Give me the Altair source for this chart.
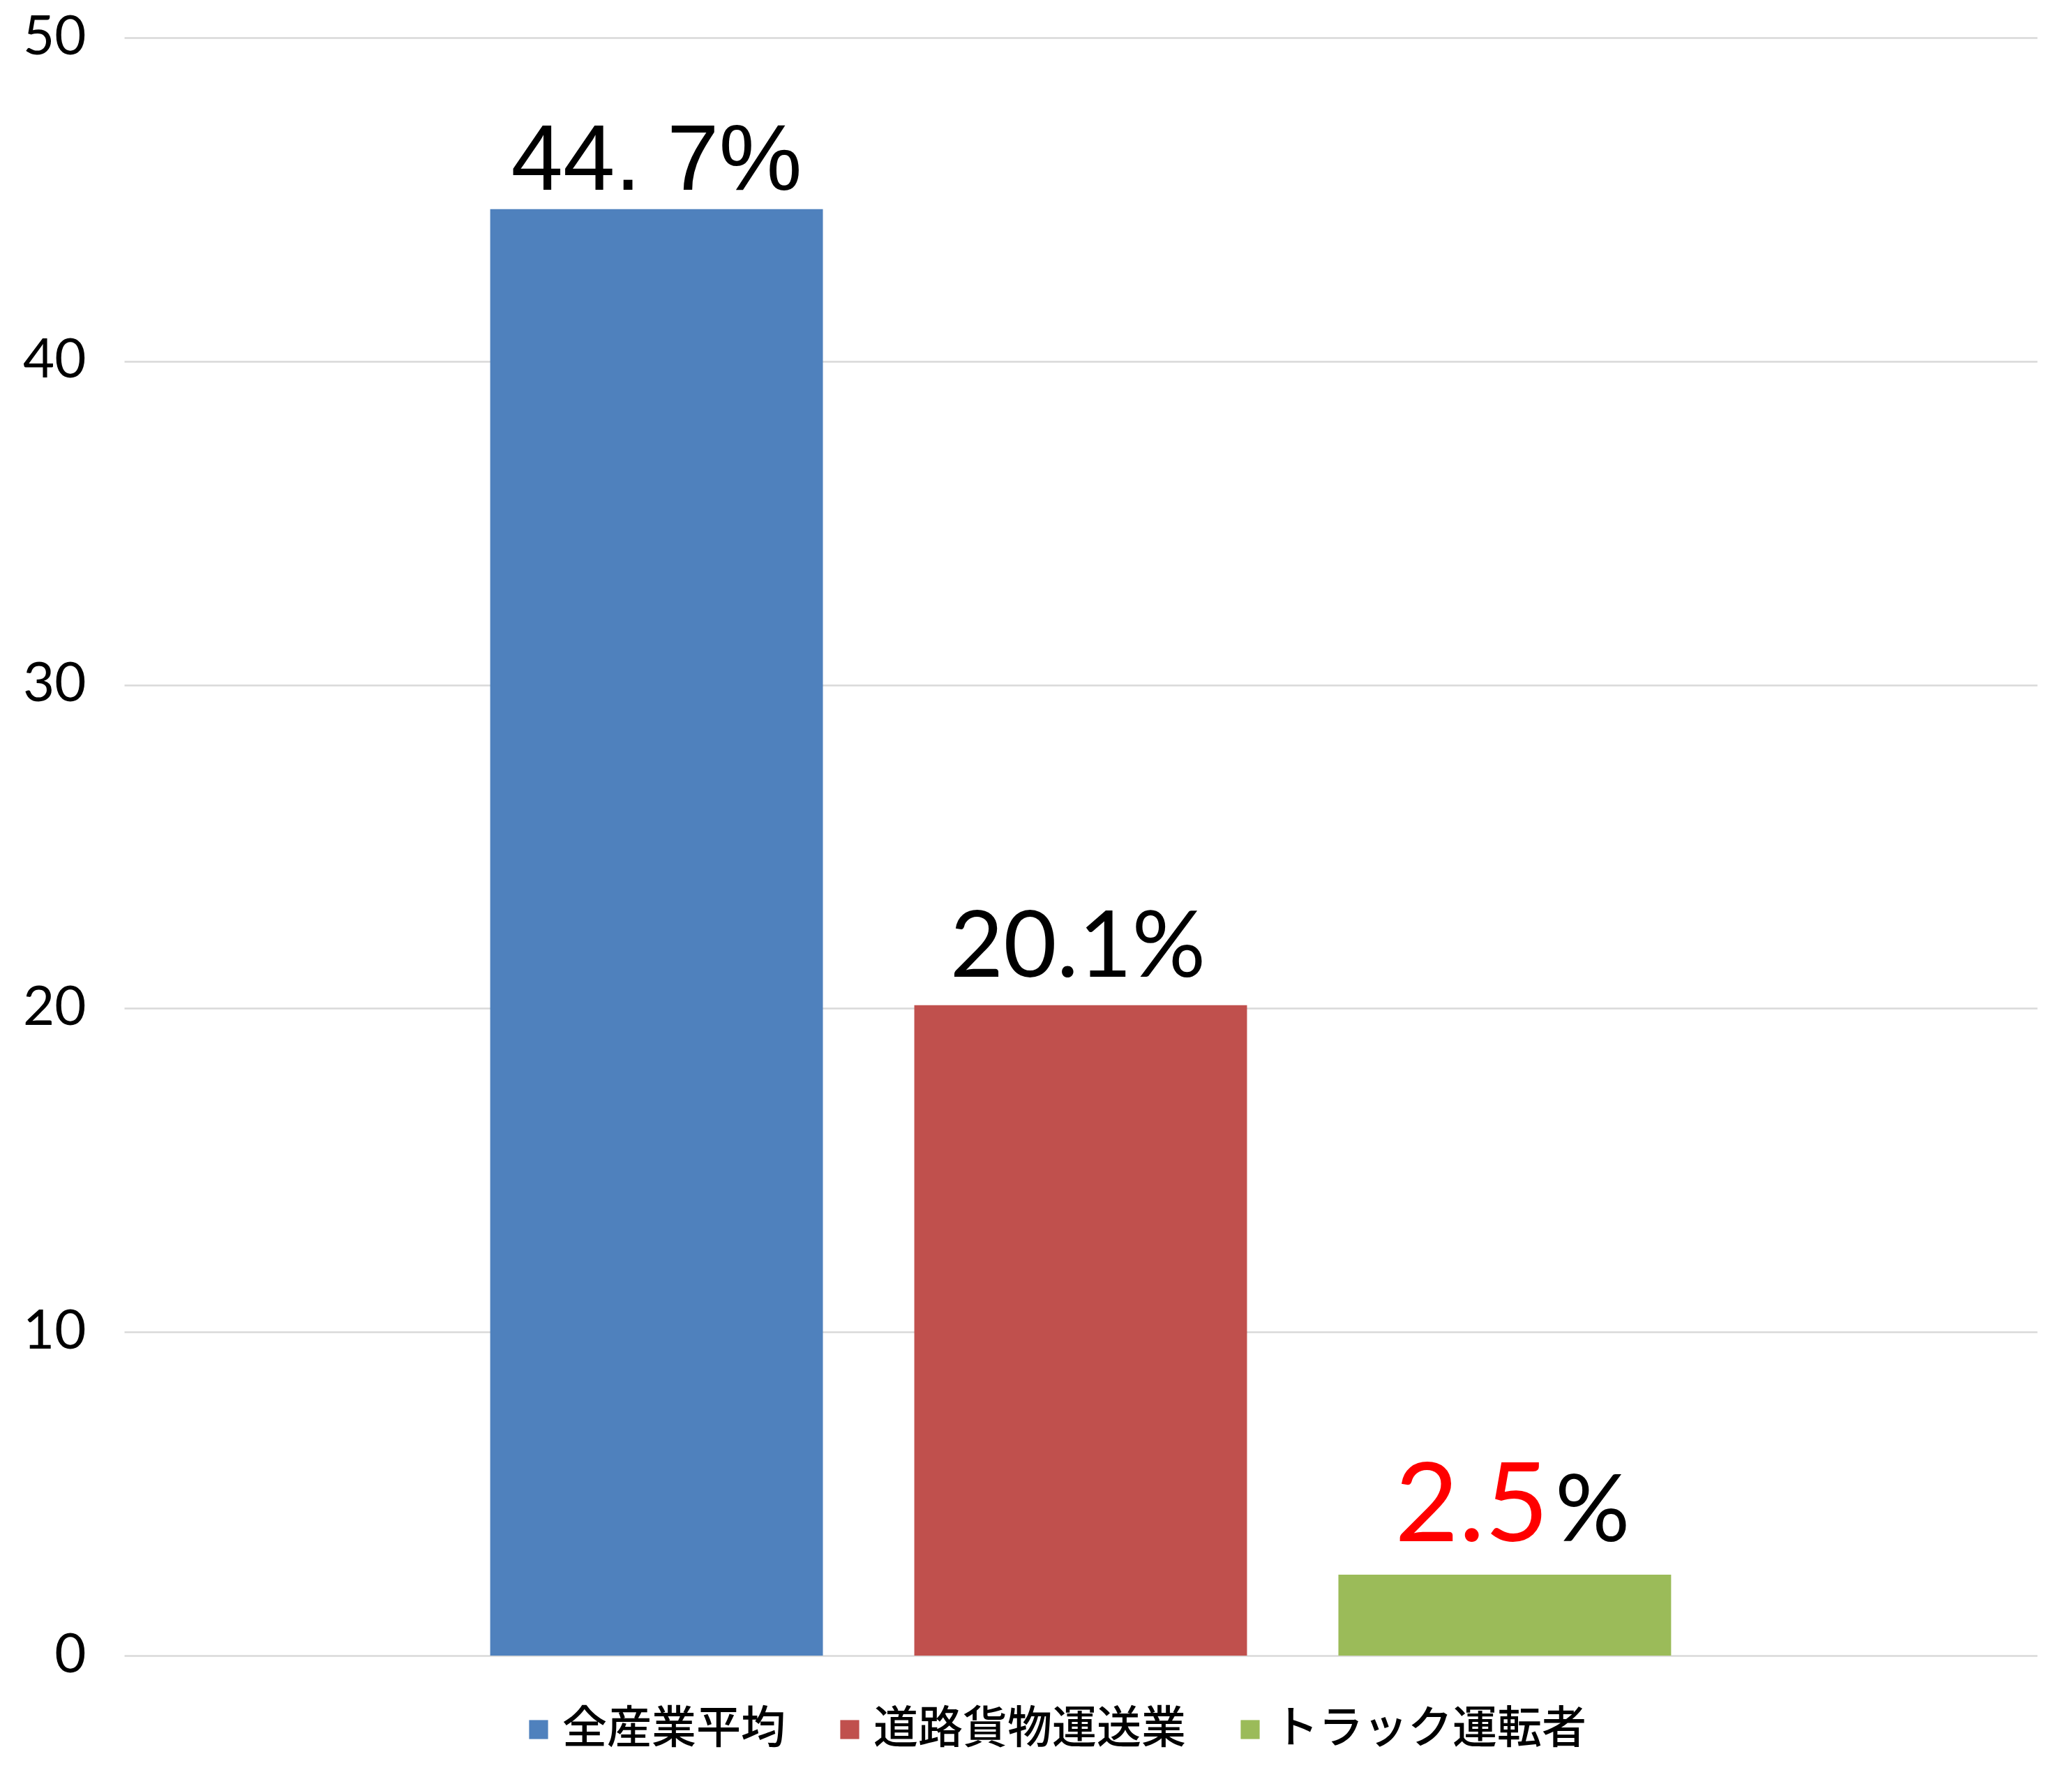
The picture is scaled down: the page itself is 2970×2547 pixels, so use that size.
import altair as alt
import pandas as pd

categories = ["全産業平均", "道路貨物運送業", "トラック運転者"]
values = [44.7, 20.1, 2.5]
labels = ["44. 7%", "20.1%", "2.5"]
suffix = ["", "", "%"]
colors = ["#4F81BD", "#C0504D", "#9BBB59"]
y_ticks = [0, 10, 20, 30, 40, 50]

df = pd.DataFrame({"category": categories, "value": values, "label": labels, "suffix": suffix})

x = alt.X("category:N", sort=categories,
          scale=alt.Scale(paddingInner=0.2155, paddingOuter=0.863), axis=None)
y = alt.Y("value:Q",
          scale=alt.Scale(domain=[0, 50], nice=False, zero=True),
          axis=alt.Axis(values=y_ticks, title=None, domain=False, ticks=False,
                        labelFont="Lato", labelFontSize=78, labelColor="#000000",
                        labelPadding=55, grid=True, gridColor="#D9D9D9", gridWidth=2.5))

bars = alt.Chart(df).mark_bar().encode(
    x=x, y=y,
    color=alt.Color("category:N", sort=categories,
                    scale=alt.Scale(domain=categories, range=colors),
                    legend=alt.Legend(title=None, orient="none", direction="horizontal",
                                      legendX=562, legendY=2393,
                                      symbolType="square", symbolSize=740,
                                      symbolStrokeWidth=0, labelFont="Noto Sans CJK JP",
                                      labelFontSize=64, labelFontWeight=500,
                                      labelColor="#000000",
                                      labelOffset=2, columnPadding=60, labelLimit=1000))
)

def lab(idx):
    return alt.Chart(df).transform_filter(
        alt.datum.category == categories[idx]
    )

t1 = lab(0).mark_text(font="Liberation Sans", fontSize=134, baseline="alphabetic",
                      align="center", dy=-28, color="#000000").encode(
    x=x, y=alt.Y("value:Q"), text="label:N")
t2 = lab(1).mark_text(font="Lato", fontSize=132, baseline="alphabetic",
                      align="center", dx=-4, dy=-41, color="#000000").encode(
    x=x, y=alt.Y("value:Q"), text="label:N")
t3 = lab(2).mark_text(font="Lato", fontSize=158, baseline="alphabetic",
                      align="right", dx=63, dy=-48, color="#FF0000").encode(
    x=x, y=alt.Y("value:Q"), text="label:N")
t4 = lab(2).mark_text(font="Lato", fontSize=134, baseline="alphabetic",
                      align="left", dx=72, dy=-48, color="#000000").encode(
    x=x, y=alt.Y("value:Q"), text="suffix:N")

chart = alt.layer(bars, t1, t2, t3, t4).properties(
    width=2742, height=2319,
    autosize=alt.AutoSizeParams(type="none"),
    padding={"left": 170, "top": 46, "right": 42, "bottom": 174},
).configure(background="#FFFFFF", view=alt.ViewConfig(stroke=None))

chart.save("out.html", embed_options={"renderer": "svg", "actions": False})
